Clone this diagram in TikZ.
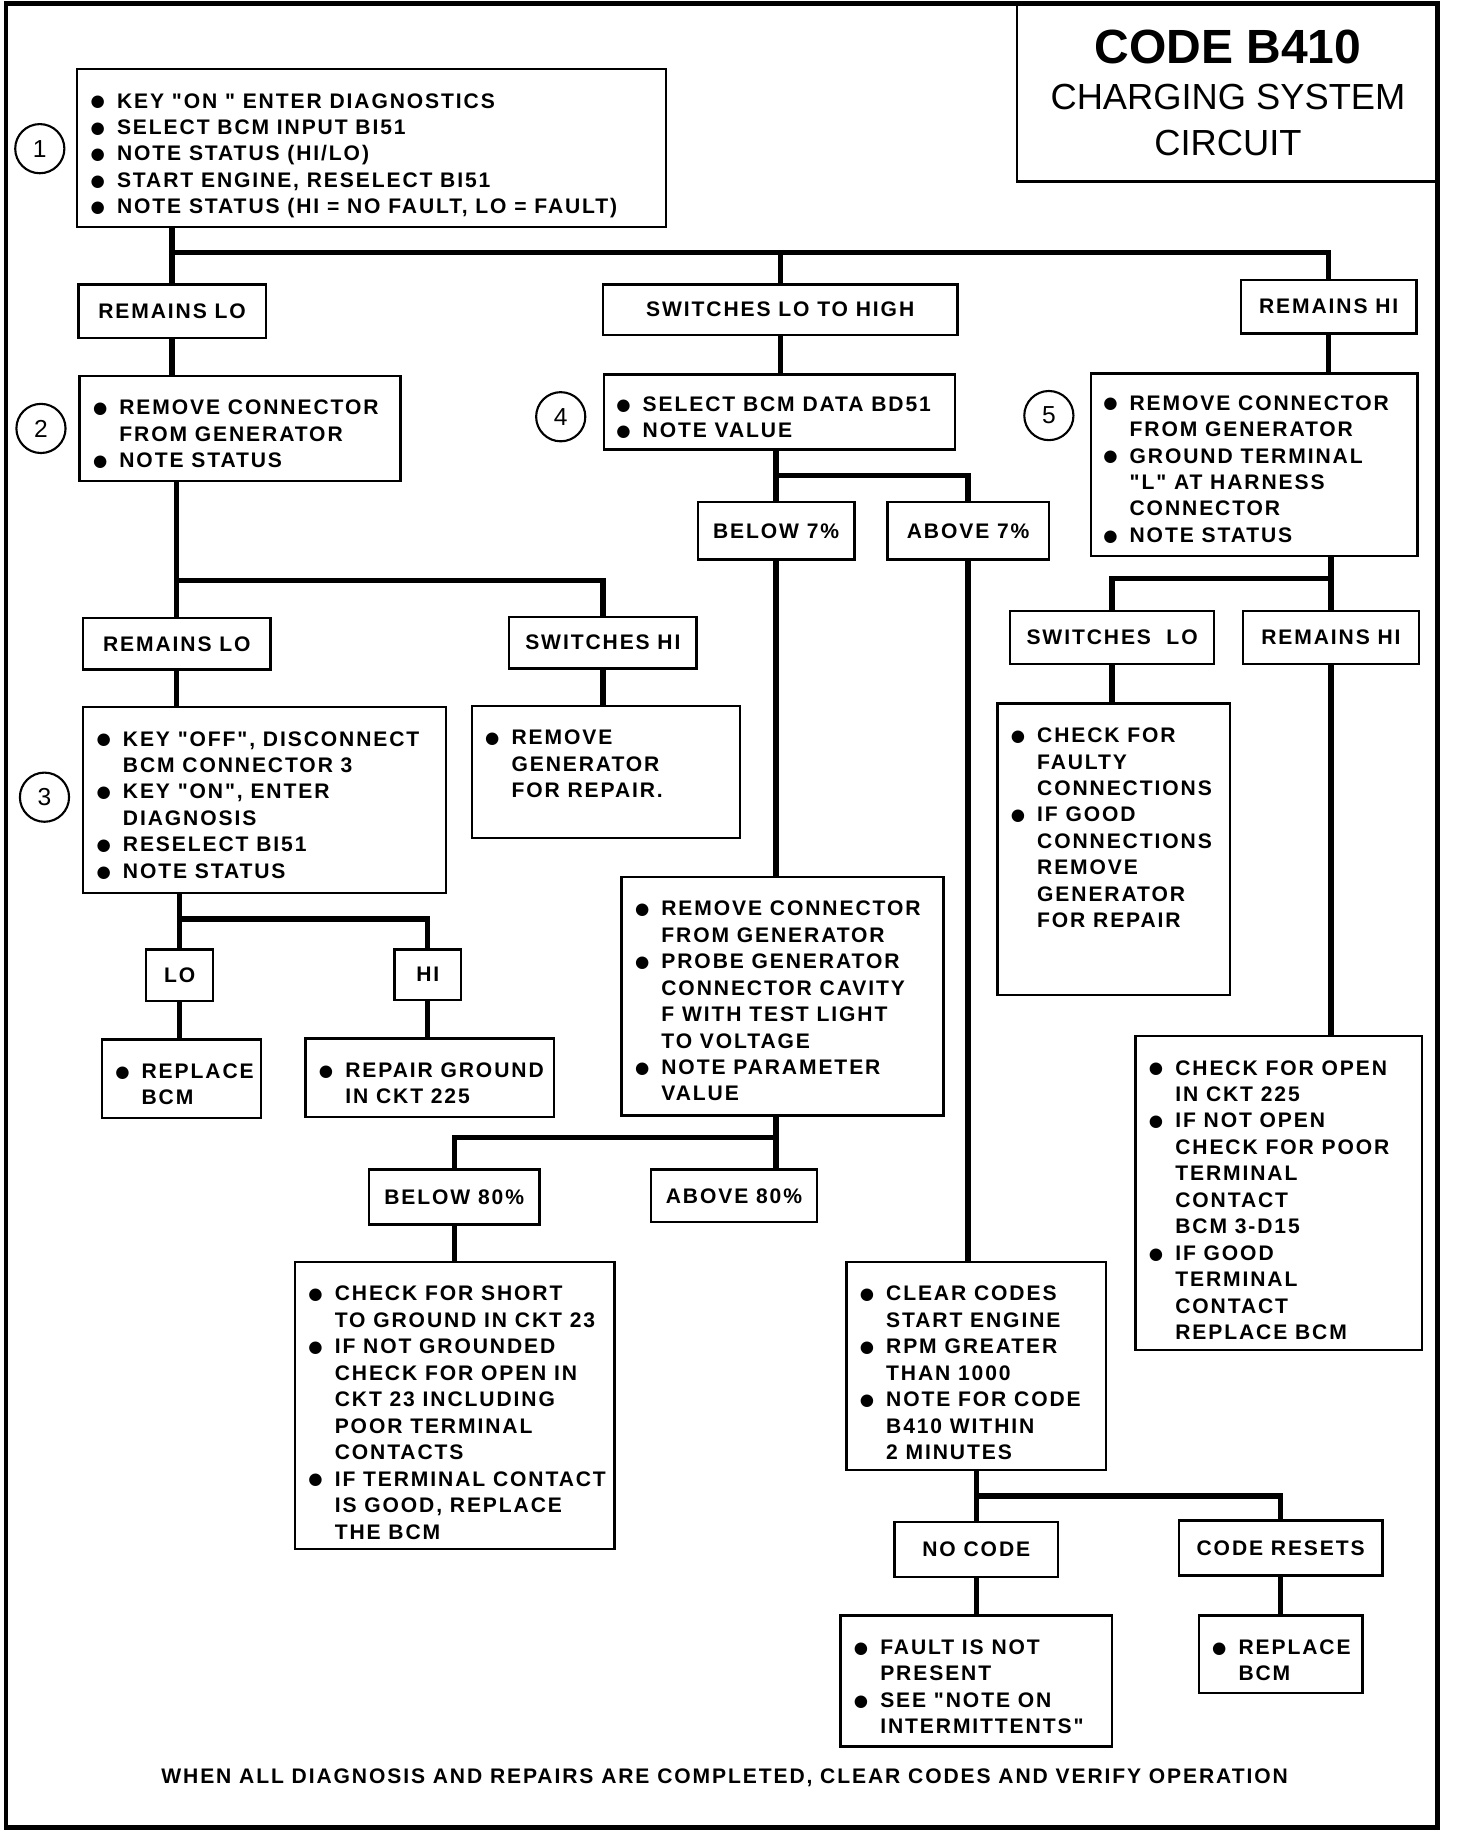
\documentclass[tikz,border=0pt]{standalone}
\usepackage{fontspec}
\setmainfont{Liberation Sans}
\newfontfamily\chartfont[LetterSpace=9]{Liberation Sans}
\newfontfamily\dotfont{DejaVu Sans}

\newcommand{\boxfont}{\chartfont\bfseries\fontsize{18}{22.6}\selectfont}
\newcommand{\B}{\makebox[22pt][l]{\hspace*{-0.5pt}\raisebox{1pt}{\dotfont\fontsize{14}{14}\selectfont ●}}}
% fixed size box, text hung from the top
\newcommand{\steps}[3]{\parbox[c][#2pt][t]{#1pt}{\vspace*{17.5pt}\hspace*{12pt}\begin{tabular}[t]{@{}l@{}l@{}}#3\end{tabular}}}

\tikzset{
  stepbox/.style={draw, line width=2pt, inner sep=0pt, anchor=north west, font=\boxfont},
  choice/.style={draw, line width=2pt, inner sep=0pt, anchor=north west, font=\boxfont},
  num/.style={draw, circle, line width=1.8pt, minimum size=42pt, inner sep=0pt, font=\fontsize{21}{21}\selectfont},
  link/.style={line width=4.5pt}
}

\begin{document}
\begin{tikzpicture}[x=1pt, y=-1pt]
    \useasboundingbox (0,0) rectangle (1244,1565);
    \draw[line width=4pt] (5,3) rectangle (1228,1561);

    % title
    \node[draw, line width=2pt, anchor=north west, minimum width=360pt, minimum height=151pt, align=center,
          font=\fontsize{31}{39.2}\selectfont] (title) at (868,3)
        {{\fontsize{41}{39.2}\selectfont\bfseries CODE B410}\\CHARGING SYSTEM\\CIRCUIT};

    % step numbers
    \node[num] (c1) at (34,127) {1};
    \node[num] (c2) at (35,366) {2};
    \node[num] (c3) at (38,681) {3};
    \node[num] (c4) at (479,356) {4};
    \node[num] (c5) at (896,355) {5};

    % step 1
    \node[stepbox] (b1) at (65,58) {\steps{503}{135}{%
        \B & KEY "ON " ENTER DIAGNOSTICS\\
        \B & SELECT BCM INPUT BI51\\
        \B & NOTE STATUS (HI/LO)\\
        \B & START ENGINE, RESELECT BI51\\
        \B & NOTE STATUS (HI = NO FAULT, LO = FAULT)}};
    \node[choice, minimum width=160pt, minimum height=46pt] (remlo1) at (66,242) {REMAINS LO};
    \node[choice, minimum width=303pt, minimum height=43pt] (lohigh) at (514,242) {SWITCHES LO TO HIGH};
    \node[choice, minimum width=150pt, minimum height=46pt] (remhi1) at (1059,238) {REMAINS HI};

    % left column
    \node[stepbox] (b2) at (67,320) {\steps{274}{90}{%
        \B & REMOVE CONNECTOR\\
           & FROM GENERATOR\\
        \B & NOTE STATUS}};
    \node[choice, minimum width=160pt, minimum height=44pt] (remlo2) at (70,527) {REMAINS LO};
    \node[choice, minimum width=160pt, minimum height=44pt] (swhi) at (434,526) {SWITCHES HI};
    \node[stepbox] (b3) at (70,603) {\steps{310}{159}{%
        \B & KEY "OFF", DISCONNECT\\
           & BCM CONNECTOR 3\\
        \B & KEY "ON", ENTER\\
           & DIAGNOSIS\\
        \B & RESELECT BI51\\
        \B & NOTE STATUS}};
    \node[stepbox] (gen) at (402,602) {\steps{229}{113}{%
        \B & REMOVE\\
           & GENERATOR\\
           & FOR REPAIR.}};
    \node[choice, minimum width=57pt, minimum height=44pt] (lo) at (124,810) {LO};
    \node[choice, minimum width=57pt, minimum height=43pt] (hi) at (336,810) {HI};
    \node[stepbox] (rep1) at (86,887) {\steps{136}{67}{%
        \B & REPLACE\\
           & BCM}};
    \node[stepbox] (rg) at (260,886) {\steps{212}{67}{%
        \B & REPAIR GROUND\\
           & IN CKT 225}};

    % middle column
    \node[stepbox] (b4) at (515,319) {\parbox[c][64pt][t]{300pt}{\vspace*{15.5pt}\hspace*{11pt}%
        \begin{tabular}[t]{@{}l@{}l@{}}\B & SELECT BCM DATA BD51\\ \B & NOTE VALUE\end{tabular}}};
    \node[choice, minimum width=134pt, minimum height=49pt] (bel7) at (595,428) {BELOW 7\%};
    \node[choice, minimum width=138pt, minimum height=49pt] (abv7) at (757,428) {ABOVE 7\%};
    \node[stepbox] (b6) at (530,748) {\steps{275}{204}{%
        \B & REMOVE CONNECTOR\\
           & FROM GENERATOR\\
        \B & PROBE GENERATOR\\
           & CONNECTOR CAVITY\\
           & F WITH TEST LIGHT\\
           & TO VOLTAGE\\
        \B & NOTE PARAMETER\\
           & VALUE}};
    \node[choice, minimum width=146pt, minimum height=47pt] (bel80) at (314,998) {BELOW 80\%};
    \node[choice, minimum width=142pt, minimum height=45pt] (abv80) at (555,998) {ABOVE 80\%};
    \node[stepbox] (short) at (251,1077) {\steps{273}{245}{%
        \B & CHECK FOR SHORT\\
           & TO GROUND IN CKT 23\\
        \B & IF NOT GROUNDED\\
           & CHECK FOR OPEN IN\\
           & CKT 23 INCLUDING\\
           & POOR TERMINAL\\
           & CONTACTS\\
        \B & IF TERMINAL CONTACT\\
           & IS GOOD, REPLACE\\
           & THE BCM}};
    \node[stepbox] (clear) at (722,1077) {\steps{222}{178}{%
        \B & CLEAR CODES\\
           & START ENGINE\\
        \B & RPM GREATER\\
           & THAN 1000\\
        \B & NOTE FOR CODE\\
           & B410 WITHIN\\
           & 2 MINUTES}};
    \node[choice, minimum width=140pt, minimum height=47pt] (nocode) at (763,1299) {NO CODE};
    \node[choice, minimum width=174pt, minimum height=47pt] (codres) at (1006,1298) {CODE RESETS};
    \node[stepbox] (fault) at (717,1379) {\steps{232}{112}{%
        \B & FAULT IS NOT\\
           & PRESENT\\
        \B & SEE "NOTE ON\\
           & INTERMITTENTS"}};
    \node[stepbox] (rep2) at (1023,1379) {\steps{140}{66}{%
        \B & REPLACE\\
           & BCM}};

    % right column
    \node[stepbox] (b5) at (931,318) {\parbox[c][156pt][t]{279pt}{\vspace*{15.5pt}\hspace*{11pt}%
        \begin{tabular}[t]{@{}l@{}l@{}}
        \B & REMOVE CONNECTOR\\
           & FROM GENERATOR\\
        \B & GROUND TERMINAL\\
           & "L" AT HARNESS\\
           & CONNECTOR\\
        \B & NOTE STATUS\end{tabular}}};
    \node[choice, minimum width=174pt, minimum height=45pt] (swlo) at (862,521) {SWITCHES\ \ LO};
    \node[choice, minimum width=150pt, minimum height=45pt] (remhi2) at (1061,521) {REMAINS HI};
    \node[stepbox] (faulty) at (851,600) {\steps{199}{249}{%
        \B & CHECK FOR\\
           & FAULTY\\
           & CONNECTIONS\\
        \B & IF GOOD\\
           & CONNECTIONS\\
           & REMOVE\\
           & GENERATOR\\
           & FOR REPAIR}};
    \node[stepbox] (open) at (969,884) {\steps{245}{268}{%
        \B & CHECK FOR OPEN\\
           & IN CKT 225\\
        \B & IF NOT OPEN\\
           & CHECK FOR POOR\\
           & TERMINAL\\
           & CONTACT\\
           & BCM 3-D15\\
        \B & IF GOOD\\
           & TERMINAL\\
           & CONTACT\\
           & REPLACE BCM}};

    \node[font=\boxfont] (note) at (619,1519)
        {WHEN ALL DIAGNOSIS AND REPAIRS ARE COMPLETED, CLEAR CODES AND VERIFY OPERATION};

    % connectors, step 1
    \draw[link] (remlo1.north |- b1.south) -- (remlo1.north);
    \path (remlo1.north) ++(0,-26) coordinate (j1);
    \draw[link] (j1) -| (lohigh.north);
    \draw[link] (j1) -| (remhi1.north);

    % left
    \draw[link] (remlo1.south) -- (remlo1.south |- b2.north);
    \draw[link] (remlo2.north |- b2.south) -- (remlo2.north);
    \path (remlo2.north) ++(0,-31) coordinate (j2);
    \draw[link] (j2) -| (swhi.north);
    \draw[link] (remlo2.south) -- (remlo2.south |- b3.north);
    \draw[link] (swhi.south) -- (swhi.south |- gen.north);
    \draw[link] (lo.north |- b3.south) -- (lo.north);
    \path (lo.north) ++(0,-25) coordinate (j3);
    \draw[link] (j3) -| (hi.north);
    \draw[link] (lo.south) -- (lo.south |- rep1.north);
    \draw[link] (hi.south) -- (hi.south |- rg.north);

    % middle
    \draw[link] (lohigh.south) -- (lohigh.south |- b4.north);
    \draw[link] (bel7.north |- b4.south) -- (bel7.north);
    \path (bel7.north) ++(0,-22) coordinate (j4);
    \draw[link] (j4) -| (abv7.north);
    \draw[link] (bel7.south) -- (bel7.south |- b6.north);
    \draw[link] (abv7.south) -- (abv7.south |- clear.north);
    \draw[link] (bel7.south |- b6.south) -- (bel7.south |- abv80.north);
    \path (bel7.south |- abv80.north) ++(0,-26) coordinate (j6);
    \draw[link] (j6) -| (bel80.north);
    \draw[link] (bel80.south) -- (bel80.south |- short.north);
    \draw[link] (nocode.north |- clear.south) -- (nocode.north);
    \path (nocode.north) ++(0,-21) coordinate (j7);
    \draw[link] (j7) -| (codres.north);
    \draw[link] (nocode.south) -- (nocode.south |- fault.north);
    \draw[link] (codres.south) -- (codres.south |- rep2.north);

    % right
    \draw[link] (remhi1.south) -- (remhi1.south |- b5.north);
    \draw[link] (remhi2.north |- b5.south) -- (remhi2.north);
    \path (remhi2.north) ++(0,-27) coordinate (j5);
    \draw[link] (j5) -| (swlo.north);
    \draw[link] (swlo.south) -- (swlo.south |- faulty.north);
    \draw[link] (remhi2.south) -- (remhi2.south |- open.north);
\end{tikzpicture}
\end{document}
